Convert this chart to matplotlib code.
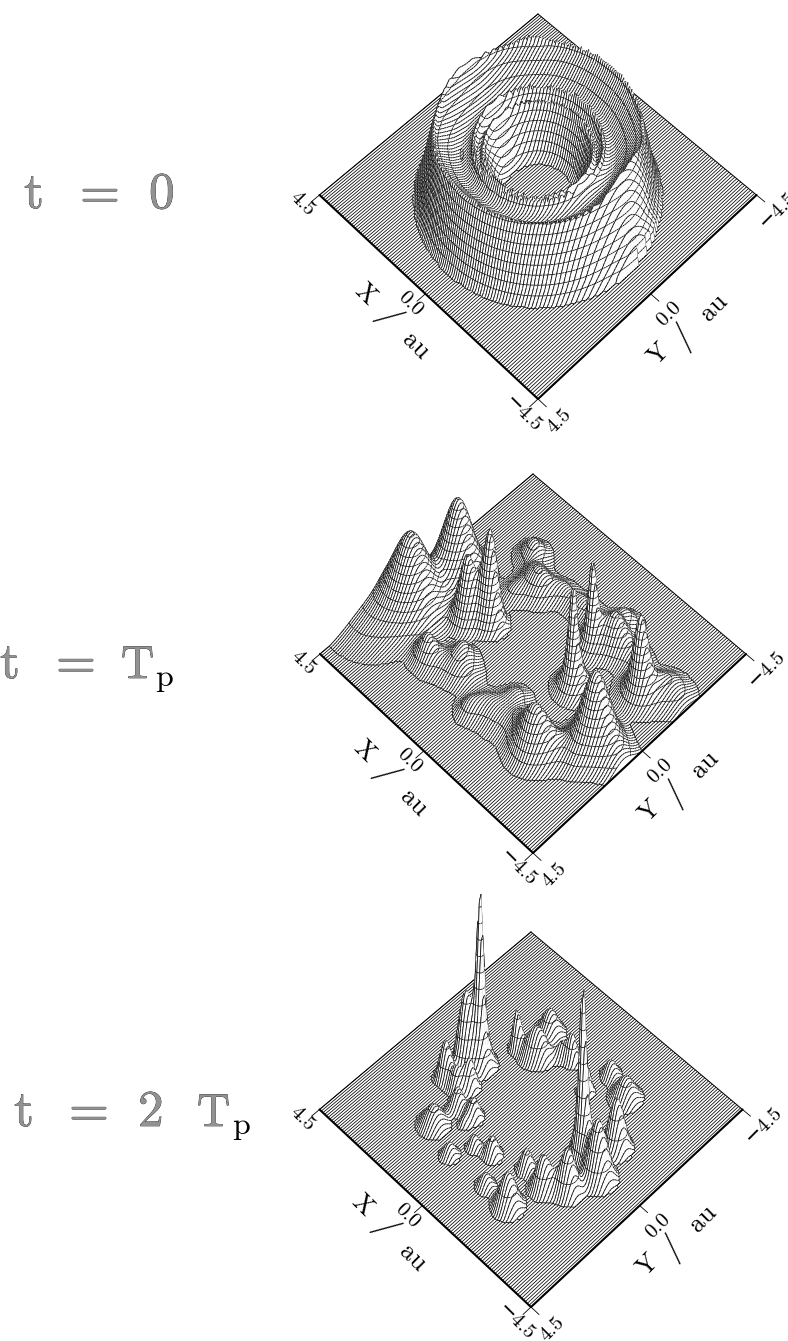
#!/usr/bin/env python3
"""Three hidden-line density surfaces at t = 0, Tp and 2 Tp."""

import matplotlib

matplotlib.use("Agg")
import matplotlib.patheffects as pe
import matplotlib.pyplot as plt
import numpy as np
from matplotlib.collections import LineCollection, PolyCollection

# values; heights are in screen pixels of the panel
RING_RADII = [0.0, 1.05, 1.2, 1.4, 1.54, 1.6, 1.66, 1.76, 1.84, 1.9, 1.96, 2.08, 2.25, 2.5, 2.8, 2.98, 3.05, 3.12, 3.3, 3.45, 3.6, 4.5]
RING_HEIGHTS = [0, 0, 6, 28, 40, 50, 42, 40, 46, 56, 47, 43, 42, 47, 56, 61, 68, 60, 36, 13, 0, 0]
RING_ANGLES = [-180, -135, -90, -45, 0, 45, 90, 135, 180]
RING_FACTORS = [1.0, 0.97, 1.03, 1.0, 1.0, 0.94, 1.02, 0.98, 1.0]
P1_X = [-3.49, -3.0, 2.4, 3.0]
P1_Y = [-0.43, -1.2, -2.2, 0.6]
P1_H = [18, 10, 6, 4]
P1_W = [0.5, 0.4, 0.4, 0.5]

P2_X = [3.54, 3.80, 1.64, 2.22, 4.27, 2.4, 1.84, 1.3, -1.08, -1.62, -3.2, -3.4, -2.2, 0.0, 2.2, 1.4, -1.6, -0.87, 0.86, -4.1, -4.3, -1.3, -1.08, -1.62, -3.2,
        1.24, -0.27, -1.44, -2.7, -0.72, 1.89, 1.85, 1.47, 0.81, 0.09, -0.74, -2.25, -3.6, -3.3, -3.4, 2.16]
P2_Y = [-0.30, 1.40, 0.18, 0.60, 2.5, -2.4, -1.84, -1.58, -1.44, -0.07, -1.31, 0.85, 2.2, 2.7, 2.3, 1.55, -1.9, 2.27, 1.94, -1.9, 0.77, -2.6, -1.44, -0.07, -1.31,
        2.0, 2.25, 1.89, 1.9, 1.44, 2.34, -1.04, -1.74, -2.07, -2.16, -2.05, -1.98, -2.07, 0.5, 1.7, 0.36]
P2_H = [80, 70, 95, 60, 15, 18, 10, 10, 60, 70, 55, 66, 42, 10, 18, 13, 32, 8, 6, 8, 10, 18, 25, 35, 25,
        10, 10, 10, 10, 10, 9, 10, 10, 10, 10, 10, 10, 9, 10, 8, 10]
P2_W = [0.45, 0.55, 0.22, 0.25, 0.8, 0.3, 0.3, 0.3, 0.12, 0.12, 0.2, 0.42, 0.4, 0.25, 0.25, 0.25, 0.3, 0.4, 0.35, 0.4, 0.4, 0.3, 0.3, 0.3, 0.4,
        0.35, 0.35, 0.35, 0.35, 0.3, 0.35, 0.3, 0.35, 0.3, 0.3, 0.35, 0.35, 0.35, 0.35, 0.3, 0.3]

P3_X = [2.2, -2.24, 2.54, 2.6, 1.72, 1.48, 1.8, 1.3, -0.86, -1.73, -2.7, -3.0, -2.7, -2.1, -1.77, -0.85, -1.3, -0.27, 0.3, 0.63, 1.05, 1.04, 1.63, 1.84, -0.72, 0.27, 2.2, -2.24, 1.0, 0.6, 2.1]
P3_Y = [-0.01, 0.06, 0.34, 1.07, 2.42, -2.3, -1.18, -1.3, -2.56, -2.3, -0.9, 0.2, 1.17, 1.6, 2.73, 2.75, 1.5, 1.9, 2.1, 2.8, 1.8, 1.4, 1.5, 0.77, -1.6, -2.07, -0.01, 0.06, -1.5, -1.95, 1.1]
P3_H = [125, 125, 70, 44, 25, 30, 42, 26, 20, 27, 55, 62, 48, 38, 38, 18, 25, 25, 18, 18, 10, 25, 25, 34, 38, 32, 55, 55, 22, 20, 26]
P3_W = [0.1, 0.1, 0.2, 0.19, 0.31, 0.28, 0.13, 0.26, 0.21, 0.31, 0.24, 0.28, 0.24, 0.24, 0.27, 0.21, 0.19, 0.19, 0.17, 0.21, 0.13, 0.19, 0.19, 0.17, 0.15, 0.15, 0.26, 0.26, 0.24, 0.17, 0.17]

TICKS = [4.5, 0.0, -4.5]
N_LINES = 118
N_SAMPLES = 128
LW = 0.55

# cx, cy, half width, half height, perspective
VIEWS = [
    (538, 195, 218.5, 191.8, 0.0597),
    (533, 654, 213.0, 189.0, 0.05),
    (531, 1109.5, 211.5, 187.0, 0.0533),
]
LEVEL_STEP = [8.0, 6.5, 16.0]


def project(x, y, z, view):
    cx, cy, a, b, k = view
    h = -(x + y) / 9.0
    d = (x - y) / 9.0
    w = 1.0 + k * d
    return cx + a * h / w, cy - (b * d + z) / w


def bumps(xx, yy, xs, ys, hs, ws, cut=2.0):
    zz = np.zeros_like(xx)
    for x0, y0, h0, w0 in zip(xs, ys, hs, ws):
        zz += h0 * np.exp(-((xx - x0) ** 2 + (yy - y0) ** 2) / (2 * w0**2))
    return np.clip(zz - cut, 0, None)


def ring(xx, yy):
    rr = np.hypot(xx, yy)
    ang = np.degrees(np.arctan2(yy, xx))
    zz = np.interp(rr, RING_RADII, RING_HEIGHTS) * np.interp(ang, RING_ANGLES, RING_FACTORS)
    extra = bumps(xx, yy, P1_X, P1_Y, P1_H, P1_W, cut=0.0)
    return zz + extra * (zz > 0)


def cell_segments(corners, levels):
    # marching squares on one quad, corners are (x, y, z)
    zs = [c[2] for c in corners]
    lo, hi = min(zs), max(zs)
    segs = []
    for level in levels[np.searchsorted(levels, lo) : np.searchsorted(levels, hi)]:
        pts = []
        for n in range(4):
            p, q = corners[n], corners[(n + 1) % 4]
            if (p[2] < level) != (q[2] < level):
                f = (level - p[2]) / (q[2] - p[2])
                pts.append((p[0] + f * (q[0] - p[0]), p[1] + f * (q[1] - p[1]), level))
        for m in range(0, len(pts) - 1, 2):
            segs.append((pts[m], pts[m + 1]))
    return segs


def draw_surface(ax, zz, xs, ys, view, step):
    levels = np.concatenate(([0.02], np.arange(step, zz.max() + step, step)))
    # flat floor first, raised cells are painted over it back to front
    floor = []
    for x0 in xs:
        px, py = project(np.full_like(ys, x0), ys, np.zeros_like(ys), view)
        floor.append(np.column_stack((px, py)))
    ax.add_collection(LineCollection(floor, colors="black", linewidths=LW, zorder=1))

    # near edges: white gap under a lifted rim, heavy line on the floor
    for edge_x, edge_y, z_edge in (
        (xs, np.full_like(xs, ys[-1]), zz[:, -1]),
        (np.full_like(ys, xs[0]), ys, zz[0, :]),
    ):
        px, py = project(edge_x, edge_y, z_edge, view)
        bx, by = project(edge_x, edge_y, np.zeros_like(z_edge), view)
        ax.fill(np.r_[px, bx[::-1]], np.r_[py, by[::-1]], color="white", lw=0, zorder=1.5)
        ax.plot(bx, by, color="black", lw=1.5, zorder=3, solid_capstyle="round")

    sx, sy = project(*np.meshgrid(xs, ys, indexing="ij"), zz, view)
    verts, faces, edges, widths = [], [], [], []
    for i in range(len(xs) - 2, -1, -1):
        for j in range(len(ys) - 1):
            if zz[i : i + 2, j : j + 2].max() <= 0:
                continue
            quad = [(i, j), (i + 1, j), (i + 1, j + 1), (i, j + 1)]
            verts.append([(sx[a, b], sy[a, b]) for a, b in quad])
            faces.append("white")
            edges.append("white")
            widths.append(0.3)
            for a in (i, i + 1):
                verts.append([(sx[a, j], sy[a, j]), (sx[a, j + 1], sy[a, j + 1])])
                faces.append("none")
                edges.append("black")
                widths.append(LW)
            corners = [(xs[a], ys[b], zz[a, b]) for a, b in quad]
            for p, q in cell_segments(corners, levels):
                p0 = project(p[0], p[1], p[2], view)
                q0 = project(q[0], q[1], q[2], view)
                verts.append([p0, q0])
                faces.append("none")
                edges.append("black")
                widths.append(LW)
    ax.add_collection(
        PolyCollection(verts, closed=False, facecolors=faces, edgecolors=edges, linewidths=widths, zorder=2)
    )

    # far edges thin
    for edge_x, edge_y, z_edge in (
        (xs, np.full_like(xs, ys[0]), zz[:, 0]),
        (np.full_like(ys, xs[-1]), ys, zz[-1, :]),
    ):
        px, py = project(edge_x, edge_y, z_edge, view)
        ax.plot(px, py, color="black", lw=0.7, zorder=1.8)


def label_axes(ax, view):
    serif = ["cmr10", "DejaVu Serif"]
    small = dict(family=serif, fontsize=15, ha="center", va="center", zorder=4)
    big = dict(family=serif, fontsize=19, ha="center", va="center", zorder=4)

    for tick, text, offs in zip(TICKS, ["4.5", "0.0", "\u22124.5"], [(-17, 9), (-15, 10), (-15, 15)]):
        x0, y0 = project(tick, 4.5, 0.0, view)
        x1, y1 = project(tick, 4.82, 0.0, view)
        ax.plot([x0, x1], [y0, y1], color="black", lw=0.6, zorder=3)
        ax.text(x0 + offs[0], y0 + offs[1], text, rotation=-45, **small)
    for tick, text, offs in zip(TICKS, ["4.5", "0.0", "\u22124.5"], [(21, 22), (18, 20), (21, 15)]):
        x0, y0 = project(-4.5, tick, 0.0, view)
        x1, y1 = project(-4.82, tick, 0.0, view)
        ax.plot([x0, x1], [y0, y1], color="black", lw=0.6, zorder=3)
        ax.text(x0 + offs[0], y0 + offs[1], text, rotation=45, **small)

    xm, ym = project(0.0, 4.5, 0.0, view)
    ax.text(xm - 60, ym, "X", rotation=-45, **big)
    ax.text(xm - 38, ym + 23, "/", rotation=-55, family=serif, fontsize=24, ha="center", va="center")
    ax.text(xm - 10, ym + 52, "au", rotation=-45, **big)
    xm, ym = project(-4.5, 0.0, 0.0, view)
    ax.text(xm + 8, ym + 60, "Y", rotation=45, **big)
    ax.text(xm + 33, ym + 42, "/", rotation=45, family=serif, fontsize=24, ha="center", va="center")
    ax.text(xm + 63, ym + 13, "au", rotation=45, **big)


def title_piece(ax, x, y, text, size=37):
    ax.text(
        x, y, text, family="cmr10", fontsize=size, ha="left", va="baseline", color="#929292",
        path_effects=[pe.withStroke(linewidth=0.4, foreground="black")],
    )


def main():
    fig = plt.figure(figsize=(7.88, 13.41), dpi=100)
    ax = fig.add_axes([0, 0, 1, 1])
    ax.set_xlim(0, 788)
    ax.set_ylim(1341, 0)
    ax.axis("off")

    xs = np.linspace(-4.5, 4.5, N_LINES)
    ys = np.linspace(-4.5, 4.5, N_SAMPLES)
    xx, yy = np.meshgrid(xs, ys, indexing="ij")
    surfaces = [
        ring(xx, yy),
        bumps(xx, yy, P2_X, P2_Y, P2_H, P2_W),
        bumps(xx, yy, P3_X, P3_Y, P3_H, P3_W, cut=6.0),
    ]
    for zz, view, step in zip(surfaces, VIEWS, LEVEL_STEP):
        draw_surface(ax, zz, xs, ys, view, step)
        label_axes(ax, view)

    for x, text in ((24, "t"), (80, "="), (149, "0")):
        title_piece(ax, x, 208, text)
    for x, text in ((0, "t"), (56, "=")):
        title_piece(ax, x, 678, text)
    title_piece(ax, 121, 678, "T", size=33)
    ax.text(155, 686, "p", family="cmr10", fontsize=23, ha="left", va="baseline")
    for x, text in ((14, "t"), (69, "="), (138, "2")):
        title_piece(ax, x, 1126, text)
    title_piece(ax, 197, 1126, "T", size=33)
    ax.text(232, 1134, "p", family="cmr10", fontsize=23, ha="left", va="baseline")

    fig.savefig("out.png", dpi=100)


if __name__ == "__main__":
    main()
